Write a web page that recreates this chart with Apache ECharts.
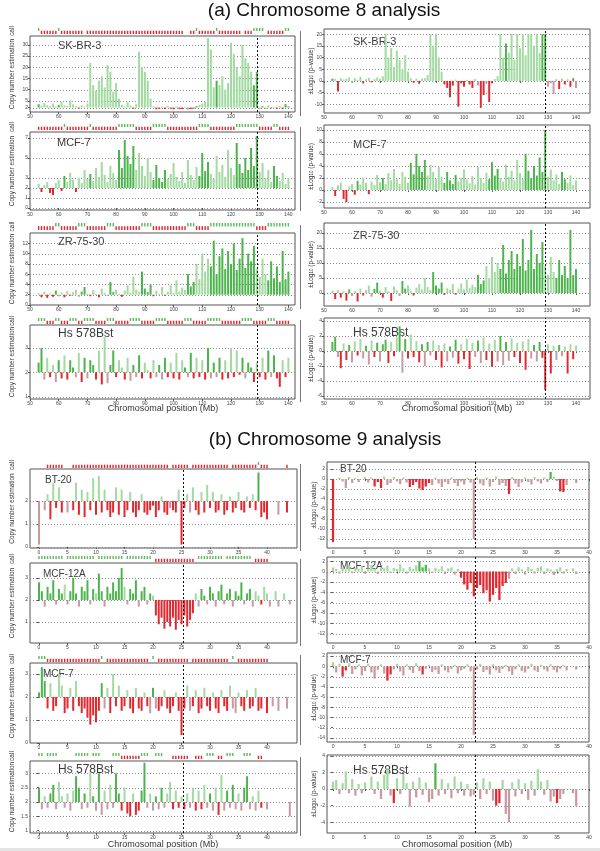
<!DOCTYPE html>
<html><head><meta charset="utf-8">
<script src="https://cdn.jsdelivr.net/npm/echarts@6/dist/echarts.min.js"></script>
<style>html,body{margin:0;padding:0;background:#fff}#c{width:600px;height:851px}</style>
</head><body><div id="c"></div>
<script>
// ---------------- DATA ----------------
var chr8Start = 53, chr8Step = 1;       // Mb bins, chromosome 8 (53..140)
var chr9Start = 0, chr9Step = 0.5;      // Mb bins, chromosome 9
var chr8Ticks = [50,60,70,80,90,100,110,120,130,140];
var chr9Ticks = [0,5,10,15,20,25,30,35,40];
var chr8MarkerMb = 128.9, chr9LeftMarkerMb = 25.2, chr9RightMarkerMb = 22.2;

// chromosome 8, copy number estimation (left column)
var skbr3Chr8Copy = [3.5,2.8,4,3,2.6,3.8,2.5,3.2,4.5,3, 2.7,5.2,3.4,2.6,1.6,3,2.4,3.8,22,12, 9.5,14,16,11,21,18,9,13,6,3.2, 2.5,4.4,3,1.5,3.5,27,20,18,14,6, 2.5,1.2,1.4,2.4,1.3,2.7,1.5,1.2,2.5,1.4, 1.3,2.3,1.1,1.3,1.5,2.6,3.2,3.8,4.5,33, 28,11,14,12,16,10,13,31,26,20, 16,30,24,22,18,12,18,1.5,2.6,1.4, 3,1.6,2.3,1.5,2.8,1.4,3.5,2.5];
var mcf7Chr8Copy = [2.4,1.6,2.3,2.6,1.5,1.3,2.5,2.8,1.7,3.2, 2.6,3.5,2.8,1.6,3,2.5,3.8,2.9,3.4,2.7, 4,3.1,4.6,3.3,2.6,4.2,3.5,2.8,5.8,4, 6.8,5.2,4.4,6.2,3.8,5.5,4.2,3.2,5,3.6, 2.8,4.3,3,2.6,3.8,2.9,3.4,4.5,3.1,2.7, 3.6,2.5,4.8,3.3,2.8,4.1,3.2,5.5,3.7,4.6, 3.4,2.9,5.2,3.6,4.3,3.1,5.8,4,3.3,6.5, 4.4,3.5,5,3.8,6,4.2,7.2,3.6,4.5,3, 3.8,2.6,4.2,3.2,2.7,3.5,2.4,3];
var zr7530Chr8Copy = [2.3,1.5,2.6,1.4,2.2,1.6,2.8,1.7,2.4,1.5, 2.7,1.8,2.5,3,1.6,2.6,3.5,2.2,1.7,2.9, 2.1,1.5,3.2,2.4,1.8,4.5,2.5,3,2.2,1.6, 2.8,3.8,2.4,5.5,3,2.6,6.5,3.2,2.5,4, 1.7,2.8,2.2,3.5,1.8,2.6,3.8,2.3,4.8,2.6, 3.4,2.9,6,3.6,4.5,8,5,10,6.5,9, 7.5,12.5,6,9.5,11,7,10.5,8,12,6.8, 9,13,7.2,10,8.5,11.5,7,5.5,9,6, 4.8,8.5,5.2,7.5,4.5,10.5,5,6.5];
var hs578bstChr8Copy = [2.4,3.0,1.7,2.6,1.8,2.3,1.6,2.5,1.75,2.7, 1.7,2.5,2.2,1.8,2.8,1.6,2.6,1.75,2.5,2.3, 1.7,2.9,1.5,3.45,1.55,2.3,2.9,1.8,2.5,2.2, 1.7,2.6,1.65,2.3,1.8,2.7,1.75,2.4,2.1,1.75, 2.5,1.8,2.3,1.7,2.6,1.8,2.4,1.75,2.8,1.7, 2.5,2.2,1.8,2.8,1.75,2.6,1.8,2.5,1.7,3.0, 1.75,2.4,1.8,2.6,1.7,2.5,1.75,3.0,1.8,2.9, 1.9,2.6,1.75,2.4,2.2,1.6,2.4,1.8,2.6,1.7, 2.9,1.8,2.7,1.75,1.4,2.5,1.8,2.6];

// chromosome 8, signed -log10(p-value) (right column)
var skbr3Chr8LogP = [1,0.8,-4.5,1.2,0.6,1,1.5,-0.8,1.2,0.5, 1.8,-1,0.7,1.4,-0.6,0.8,1.5,0.9,2,20, 10,14,6,13,9,5,11,4,1.2,-0.8, 1,-1.2,0.9,1.2,2.5,20,15,20,10,4, -1.5,-3,-7,-2,0.6,-11,-1,-2.5,0.5,-1.5, -3,0.8,-2,-11.5,-6,-1.2,-9,-1,0.8,2, 20,10,16,12,20,9,20,14,20,11, 20,20,15,20,12,20,20,-2.5,-1,-5.5, 0.8,-3.5,1,-1.5,0.7,-2.5,1.2,-3];
var mcf7Chr8LogP = [0.5,-1,0.8,1.2,-1.5,-2,0.6,1,-0.8,1.5, 0.9,2,1.2,-0.7,1.4,0.8,2.5,1.3,2,1, 2.8,1.6,3.5,1.8,1,3,2.2,1.2,4.5,2.6, 6,4,3,5,2.4,4.2,3,1.8,3.8,2.2, 1.2,3,1.6,1,2.5,1.4,2,3.4,1.7,1.1, 2.3,0.9,3.8,2,1.2,2.9,1.8,4.6,2.4,3.5, 2,1.4,4.2,2.2,3.2,1.6,5,2.8,1.8,6, 3.2,2,4,2.4,5.4,3,10,2.2,3.4,1.6, 2.6,1,3,1.8,1.2,2.4,0.8,1.6];
var zr7530Chr8LogP = [0.8,-2,1,-1.5,0.6,-2.5,1.2,-1,0.7,-2.8, 1.5,-0.8,1,2.5,-1.2,1.4,3.5,0.8,-1.5,2, 0.6,-2.6,2.2,1,-1,4,1.5,2.5,0.8,-0.8, 1.8,3,1.2,5,2,1,7,2.5,1.5,3.5, -0.6,1.6,1,3,-0.5,1.5,3.2,1.2,4.5,1.6, 2.8,2,6,3,4.2,9,5,12,7,10, 8,16,6.5,11,14,8,13,9,18,7.5, 11,21,8,13,10,17,9,6,12,7, 5,11,6,9,5,21,6,8];
var hs578bstChr8LogP = [1.2,1.9,-0.8,-2.3,1,-1.2,0.8,-1.5,1.3,-0.6, 1.6,-1,0.7,-1.8,1.4,-0.8,1.1,-1.4,0.9,1.5, -1.6,1.2,-0.7,1.8,3.3,-2.9,1.6,-1,2.2,-0.8, 1.3,-1.5,0.9,-2,1.2,-0.6,1.4,-1.2,0.8,-2.2, 1,-1.4,0.6,-0.9,1.5,-1.7,0.9,-1.1,1.6,-2.4, 1.1,-0.8,1.4,-1.6,1.8,-1.2,1,-2.1,1.5,-1.4, 2,-1.9,1.2,-1.3,1.7,-0.8,1.1,-1.6,1.3,-2.5, 1.6,-1,0.8,-1.4,1.2,-0.9,-5.2,0.9,-3,0.7, -1.2,0.8,-0.7,0.6,-3,0.9,-1.1,0.7];

// chromosome 9, copy number estimation (left column, 0..44 Mb)
var bt20Chr9Copy = [0.1,null,1.6,2.3,1.2,2.8,1.7,2.6,1.5,null, 1.5,null,1.6,2.8,1.4,2.5,1.3,2.4,1.6,3.0, 1.4,3.1,1.5,2.5,1.6,1.3,1.5,2.6,1.4,2.5, 1.3,1.6,2.4,1.5,1.3,1.6,2.3,1.5,1.4,1.6, 1.8,1.3,1.6,2.2,1.5,1.4,1.7,1.6,1.5,2.5, 0.1,1.7,2.3,1.5,2.6,1.6,1.4,2.4,1.5,2.7, 1.7,2.4,1.5,1.6,2.3,1.4,1.6,2.2,1.5,1.7, 2.4,1.6,1.5,2.2,1.7,2.3,1.6,3.25,1.3,1.5, 1.2,null,null,null,1.4,null,null,1.5,null];
var mcf12aChr9Copy = [2.8,2.4,1.7,2.6,2.3,2.9,1.8,2.5,2.3,2.7, 1.8,2.4,3.0,2.3,1.7,2.6,2.4,2.9,1.8,2.5, 2.3,3.2,2.4,1.7,2.6,2.3,2.8,2.4,3.0,3.45, 2.6,1.8,2.5,2.3,2.9,1.7,2.4,2.6,1.8,2.3, 2.2,1.3,0.9,1.2,0.7,1.0,0.8,1.2,0.65,1.1, 0.9,1.3,0.8,1.1,1.4,2.3,1.7,2.5,2.2,1.8, 2.6,2.3,1.7,2.4,2.7,1.8,2.3,2.5,1.7,2.4, 2.2,2.8,1.8,2.3,2.5,1.7,2.4,2.2,1.8,2.6, 2.3,1.7,null,2.4,1.7,null,2.3,null,1.8];
var mcf7Chr9Copy = [2.2,3.3,2.7,1.5,2.6,1.4,1.6,3.0,2.5,1.3, 1.5,2.4,1.4,2.7,1.6,1.3,1.5,1.1,0.8,1.2, 0.9,1.4,2.6,1.5,2.4,1.3,3.0,1.6,2.5,1.4, 1.6,2.3,1.5,1.3,2.4,1.5,1.4,2.2,1.6,1.3, 2.4,1.5,1.4,1.6,2.3,1.5,1.3,1.6,2.2,1.4, 0.35,1.5,2.5,1.4,1.6,2.3,1.3,1.5,2.4,1.6, 1.4,2.2,1.5,1.3,2.3,1.6,1.4,2.5,1.5,1.3, 2.2,1.6,1.4,2.3,1.5,1.6,2.4,1.4,1.5,null, 1.3,null,1.6,null,1.4,null,null,1.5,null];
var hs578bstChr9Copy = [2.5,1.75,2.2,1.8,2.3,2.6,1.75,2.7,2.2,1.8, 2.3,1.7,2.4,2.9,2.5,1.75,2.3,1.8,3.05,2.2, 1.7,3.0,1.55,2.4,1.75,2.6,1.8,3.0,2.3,1.7, 2.5,1.6,1.5,2.3,1.55,1.7,2.4,3.37,1.8,2.3, 1.7,2.2,1.75,2.5,1.8,2.3,2.7,1.75,2.4,1.8, 2.2,1.75,2.3,1.8,2.5,1.7,2.4,1.75,2.6,1.8, 2.3,1.7,2.5,1.55,2.95,1.7,2.4,1.8,2.6,1.75, 2.3,1.7,2.5,2.9,1.75,2.2,1.7,2.4,1.8,null, 1.75,null,null,null,null,null,null,null,1.5];

// chromosome 9, signed -log10(p-value) (right column, 0..38 Mb)
var bt20Chr9LogP = [-12.6,null,0.3,-0.5,-1.8,0.4,-0.8,0.2,-0.6,null, 0.4,-0.7,0.3,-1.5,-0.6,-1.8,0.5,-1.2,-0.8,0.4, -0.5,-1.0,0.3,-0.7,-1.6,-1.2,-0.6,-1.9,-2.2,-1.5, -0.8,-1.2,0.3,-0.9,-1.6,-0.6,-1.0,0.3,-0.8,-1.4, -0.5,-1.1,0.2,-0.7,-12,0.4,-0.9,-1.3,0.3,-1.5, -0.6,0.5,-1.2,-0.8,-1.4,-3,0.4,-0.9,-1.6,-0.7, 0.3,-0.6,-1.1,0.4,-0.5,-0.9,0.3,-0.6,1.4,0.5, -0.4,-2.5,-2.6,-1.2,null,null,-0.8];
var mcf12aChr9LogP = [0.8,0.5,-0.4,0.9,0.4,1.2,-0.3,0.7,0.5,1.0, -0.4,0.6,1.3,0.5,-0.5,0.8,0.6,1.1,-0.3,0.7, 0.5,1.4,0.6,-0.4,0.9,0.5,1.2,2.0,0.8,1.3, 0.6,-0.3,0.7,0.4,1.0,-0.5,0.6,0.8,-0.6,0.5, -1.2,-2.5,-3.5,-2.2,-4.8,-3.2,-2.6,-4.2,-3.6,-5.8, -4.5,-3.2,-5.5,-2.8,-2.2,-1.4,0.6,-0.5,0.8,0.4, -0.6,0.9,0.5,-0.4,0.7,1.0,-0.5,0.6,0.4,-0.7, 0.5,0.8,-0.4,0.5,null,0.6,-0.5];
var mcf7Chr9LogP = [0.8,-1.2,0.5,-2.0,-0.8,0.6,-1.5,-0.6,0.4,-1.8, -0.9,0.5,-1.2,-2.4,-0.7,0.4,-1.4,-2.8,-1.6,-0.6, 0.5,-1.0,-1.8,0.4,-0.7,-1.3,0.6,-0.9,-1.6,-0.5, 0.3,-1.1,-0.7,-1.5,0.4,-0.8,-1.2,-0.5,0.3,-1.4, -0.8,-0.5,0.4,-1.0,-13.4,-0.6,0.5,-1.1,-0.7,-1.6, 0.4,-0.8,-1.3,-0.5,0.3,-1.0,-1.7,-0.6,0.4,-0.9, -1.2,-0.5,0.5,-0.8,-1.1,0.3,-0.6,-1.0,0.4,-0.7, -1.2,-0.5,0.3,-0.8,null,null,-0.6];
var hs578bstChr9LogP = [0.9,1.1,-0.6,0.7,2.1,-0.5,1.2,-0.8,0.6,-0.5, 0.8,null,1.5,-0.6,0.9,-1.2,1.7,2.5,-0.8,-1.7, 1.3,-0.6,1.8,0.7,-2.1,0.9,-1.0,1.4,-0.7,0.8, -1.6,-1.2,3.1,-0.8,1.2,-0.6,0.7,-1.1,1.5,-0.5, 0.9,-0.8,0.6,-0.9,-0.7,0.8,-1.2,1.3,-0.6,0.9, -1.4,-2.0,-1.7,1.1,-3.0,-4.0,0.8,-0.9,1.2,-0.6, 0.7,-1.3,1.0,-0.8,2.4,0.9,-0.7,1.1,-1.5,-0.9, -1.7,-1.2,-0.6,null,null,-0.5,-2.1];

// call segments [startMb, endMb, call] : 1 gain, -1 loss
var skbr3Chr8Calls = [[53,53,1],[54,59,-1],[60,60,1],[61,68,-1],[70,81,-1],[82,91,-1],[92,103,-1],[106,107,-1],[108,108,1],[109,114,-1],[115,115,1],[116,123,-1],[125,127,-1],[128,131,1],[133,138,-1],[139,140,1]];
var mcf7Chr8Calls = [[53,61,-1],[62,62,1],[63,70,-1],[71,71,1],[72,80,-1],[81,86,1],[87,92,-1],[93,97,1],[98,108,-1],[109,112,1],[113,121,-1],[122,129,1],[130,134,-1],[135,136,1],[137,140,-1]];
var zr7530Chr8Calls = [[53,58,-1],[59,60,1],[61,66,-1],[67,69,1],[70,76,-1],[77,79,1],[80,88,-1],[89,92,1],[93,104,-1],[105,107,1],[108,112,-1],[113,128,1],[129,132,-1],[133,140,1]];
var hs578bstChr8Calls = [[53,55,1],[56,58,-1],[59,60,1],[61,63,-1],[64,66,1],[67,68,-1],[69,72,1],[73,76,-1],[77,79,1],[80,84,-1],[85,88,1],[89,93,-1],[94,97,1],[98,103,-1],[104,106,1],[107,111,-1],[112,116,1],[117,123,-1],[124,127,1],[128,132,-1],[133,135,1],[136,140,-1]];
var bt20Chr9Calls = [[1.5,4,-1],[6,22.5,-1],[23.5,26,-1],[27,33,-1],[34,38,-1],[38.5,38.5,1],[39,40,-1],[43.5,43.5,-1]];
var mcf12aChr9Calls = [[0,4,1],[5,9.5,1],[10.5,14.5,1],[15.5,19.5,1],[20.5,27,-1],[28,32,1],[33,37,1],[38,40,-1]];
var mcf7Chr9Calls = [[0,1,1],[1.5,10.5,-1],[11,11,1],[12,19,-1],[20,20,1],[21,26,-1],[27,33,-1],[34,34,1],[35,40,-1]];
var hs578bstChr9Calls = [[0,0.5,1],[1.5,3,1],[6.5,8.5,1],[9.5,10.5,1],[13,14,1],[14.5,17.5,-1],[18,19,1],[20.5,21.5,1],[23.5,26,-1],[27.5,28.5,-1],[29.5,30.5,1],[31.5,32,-1],[33,34,1],[36,37,1],[38.5,39,-1]];
var bt20Chr9RightCalls = [[0,0,-1],[6.5,8,-1],[12,15,-1],[27.5,27.5,-1],[33.5,34,1],[35.5,36,-1]];
var mcf12aChr9RightCalls = [[13.5,14.5,1],[20,27,-1]];
var mcf7Chr9RightCalls = [[1.5,2,-1],[8.5,9,-1],[14,14,-1]];
var hs578bstChr9RightCalls = [[9.5,9.5,-1],[16,16,1],[25.5,26,-1],[35,35,-1]];

// y tick labels
var skbr3CopyTicks = [0,2,5,10,15,20,25,30];
var mcf7Chr8CopyTicks = [0,1,2,3,5,7];
var zr7530CopyTicks = [0,2,4,6,8,10,12];
var hsChr8CopyTicks = [1,2,3];
var skbr3LogPTicks = [-10,-5,0,5,10,15,20];
var mcf7Chr8LogPTicks = [-2,0,2,4,6,8,10];
var zr7530LogPTicks = [0,5,10,15,20];
var hsChr8LogPTicks = [-6,-4,-2,0,2,4];
var bt20CopyTicks = [0,1,2];
var mcf12aCopyTicks = [1,2,3];
var mcf7Chr9CopyTicks = [0,1,2,3];
var hsChr9CopyTicks = [1,1.5,2,2.5,3];
var bt20LogPTicks = [-12,-10,-8,-6,-4,-2,0,2];
var mcf12aLogPTicks = [-12,-10,-8,-6,-4,-2,0,2];
var mcf7Chr9LogPTicks = [-14,-12,-10,-8,-6,-4,-2,0,2];
var hsChr9LogPTicks = [-4,-2,0,2,4];

// ---------------- LAYOUT ----------------
var C = {gl:'#a2daa2', gd:'#4db44d', rl:'#c79aa2', rd:'#e2272f'};
var FONT = 'Liberation Sans, Arial, sans-serif';

var panels = [
 {v:skbr3Chr8Copy, s:chr8Start, st:chr8Step, seg:skbr3Chr8Calls, base:2, y:[0,34], yt:skbr3CopyTicks, x:[50,142.3], xt:chr8Ticks, mk:chr8MarkerMb, box:[30,36,265,76], strip:[28,6], lab:'SK-BR-3', lp:[58,47,11]},
 {v:mcf7Chr8Copy, s:chr8Start, st:chr8Step, seg:mcf7Chr8Calls, base:2, y:[-0.2,7.6], yt:mcf7Chr8CopyTicks, x:[50,142.3], xt:chr8Ticks, mk:chr8MarkerMb, box:[30,132,265,78], strip:[124,6], lab:'MCF-7', lp:[57,144,11]},
 {v:zr7530Chr8Copy, s:chr8Start, st:chr8Step, seg:zr7530Chr8Calls, base:2, y:[0,14], yt:zr7530CopyTicks, x:[50,142.3], xt:chr8Ticks, mk:chr8MarkerMb, box:[30,233,265,72], strip:[223,7], lab:'ZR-75-30', lp:[58,243,11]},
 {v:hs578bstChr8Copy, s:chr8Start, st:chr8Step, seg:hs578bstChr8Calls, base:2, y:[0.9,3.95], yt:hsChr8CopyTicks, x:[50,142.3], xt:chr8Ticks, mk:chr8MarkerMb, box:[30,325,265,74], strip:[318,6], lab:'Hs 578Bst', lp:[58,335,12]},
 {v:skbr3Chr8LogP, s:chr8Start, st:chr8Step, seg:skbr3Chr8Calls, base:0, y:[-13.7,22.2], yt:skbr3LogPTicks, x:[50,145], xt:chr8Ticks, mk:chr8MarkerMb, box:[324,29,266,84], lab:'SK-BR-3', lp:[353,43,11]},
 {v:mcf7Chr8LogP, s:chr8Start, st:chr8Step, seg:mcf7Chr8Calls, base:0, y:[-3,10.8], yt:mcf7Chr8LogPTicks, x:[50,145], xt:chr8Ticks, mk:chr8MarkerMb, box:[324,125,266,83], lab:'MCF-7', lp:[353,146,11]},
 {v:zr7530Chr8LogP, s:chr8Start, st:chr8Step, seg:zr7530Chr8Calls, base:0, y:[-4.3,23.3], yt:zr7530LogPTicks, x:[50,145], xt:chr8Ticks, mk:chr8MarkerMb, box:[324,223,266,83], lab:'ZR-75-30', lp:[353,237,11]},
 {v:hs578bstChr8LogP, s:chr8Start, st:chr8Step, seg:hs578bstChr8Calls, base:0, y:[-6.4,4.4], yt:hsChr8LogPTicks, x:[50,145], xt:chr8Ticks, mk:chr8MarkerMb, box:[324,318,266,81], lab:'Hs 578Bst', lp:[353,334,12]},
 {v:bt20Chr9Copy, s:chr9Start, st:chr9Step, seg:bt20Chr9Calls, base:2, y:[-0.05,3.4], yt:bt20CopyTicks, x:[-1.58,45.26], xt:chr9Ticks, mk:chr9LeftMarkerMb, box:[30,469,267,79], strip:[462,6], lab:'BT-20', lp:[45,481,10]},
 {v:mcf12aChr9Copy, s:chr9Start, st:chr9Step, seg:mcf12aChr9Calls, base:2, y:[0.05,3.68], yt:mcf12aCopyTicks, x:[-1.58,45.26], xt:chr9Ticks, mk:chr9LeftMarkerMb, box:[30,563,267,80], strip:[556,6], lab:'MCF-12A', lp:[43,575,10]},
 {v:mcf7Chr9Copy, s:chr9Start, st:chr9Step, seg:mcf7Chr9Calls, base:2, y:[0,3.48], yt:mcf7Chr9CopyTicks, x:[-1.58,45.26], xt:chr9Ticks, mk:chr9LeftMarkerMb, box:[30,663,267,80], strip:[656,6], lab:'MCF-7', lp:[43,675,10]},
 {v:hs578bstChr9Copy, s:chr9Start, st:chr9Step, seg:hs578bstChr9Calls, base:2, y:[0.92,3.43], yt:hsChr9CopyTicks, x:[-1.58,45.26], xt:chr9Ticks, mk:chr9LeftMarkerMb, box:[30,761,267,72], strip:[753,6], lab:'Hs 578Bst', lp:[58,771,12]},
 {v:bt20Chr9LogP, s:chr9Start, st:chr9Step, seg:bt20Chr9RightCalls, base:0, y:[-13.8,3.4], yt:bt20LogPTicks, x:[-0.94,40], xt:chr9Ticks, mk:chr9RightMarkerMb, box:[327,462,262,86], lab:'BT-20', lp:[340,470,10]},
 {v:mcf12aChr9LogP, s:chr9Start, st:chr9Step, seg:mcf12aChr9RightCalls, base:0, y:[-13.8,2.8], yt:mcf12aLogPTicks, x:[-0.94,40], xt:chr9Ticks, mk:chr9RightMarkerMb, box:[327,557,262,86], lab:'MCF-12A', lp:[340,567,10]},
 {v:mcf7Chr9LogP, s:chr9Start, st:chr9Step, seg:mcf7Chr9RightCalls, base:0, y:[-14.8,2.6], yt:mcf7Chr9LogPTicks, x:[-0.94,40], xt:chr9Ticks, mk:chr9RightMarkerMb, box:[327,653,262,89], lab:'MCF-7', lp:[340,661,10]},
 {v:hs578bstChr9LogP, s:chr9Start, st:chr9Step, seg:hs578bstChr9RightCalls, base:0, y:[-5.3,4.1], yt:hsChr9LogPTicks, x:[-0.94,40], xt:chr9Ticks, mk:chr9RightMarkerMb, box:[327,755,262,78], lab:'Hs 578Bst', lp:[353,772,12]}
];

function expand(vals, start, step, segs){
  var out = [];
  for (var i = 0; i < vals.length; i++){
    var x = Math.round((start + i*step)*100)/100, code = 0;
    for (var j = 0; j < segs.length; j++){
      if (x >= segs[j][0] - 1e-6 && x <= segs[j][1] + 1e-6){ code = segs[j][2]; break; }
    }
    out.push([x, vals[i] === null ? '-' : vals[i], code]);
  }
  return out;
}

function barRenderer(base, step){
  return function(params, api){
    var x = api.value(0), v = api.value(1), code = api.value(2);
    if (v == null || isNaN(v)) return;
    var p0 = api.coord([x, base]), p1 = api.coord([x, v]);
    var w = Math.max(1.2, api.size([step, 0])[0]*0.7);
    var top = Math.min(p0[1], p1[1]), h = Math.max(0.8, Math.abs(p1[1]-p0[1]));
    var up = v >= base;
    var fill = up ? (code === 1 ? C.gd : C.gl) : (code === -1 ? C.rd : C.rl);
    return {type:'rect', shape:{x:p0[0]-w/2, y:top, width:w, height:h}, style:{fill:fill}};
  };
}
function hlineRenderer(x0, x1){
  return function(params, api){
    var y = api.value(1);
    var a = api.coord([x0, y]), b = api.coord([x1, y]);
    var yy = Math.round(a[1]) + 0.5;
    return {type:'line', shape:{x1:a[0], y1:yy, x2:b[0], y2:yy}, style:{stroke:'#8c8c8c', lineWidth:1, lineDash:[1,2]}};
  };
}
function vlineRenderer(y0, y1){
  return function(params, api){
    var x = api.value(0);
    var a = api.coord([x, y0]), b = api.coord([x, y1]);
    var xx = Math.round(a[0]) + 0.5;
    return {type:'line', shape:{x1:xx, y1:a[1], x2:xx, y2:b[1]}, style:{stroke:'#111', lineWidth:1, lineDash:[2,2]}};
  };
}
function stripRenderer(step){
  return function(params, api){
    var x = api.value(0), code = api.value(1);
    if (!code) return;
    var w = Math.max(1, api.size([step, 0])[0]*0.5);
    var a = code === 1 ? api.coord([x, 1]) : api.coord([x, 0.55]);
    var b = code === 1 ? api.coord([x, 0.5]) : api.coord([x, 0]);
    return {type:'rect', shape:{x:a[0]-w/2, y:a[1], width:w, height:b[1]-a[1]}, style:{fill: code === 1 ? '#5cbc5c' : C.rd}};
  };
}

var option = {animation:false, textStyle:{fontFamily:FONT}, grid:[], xAxis:[], yAxis:[], series:[], graphic:[]};

panels.forEach(function(p){
  var gi = option.grid.length;
  option.grid.push({left:p.box[0], top:p.box[1], width:p.box[2], height:p.box[3], show:true, borderColor:'#555', borderWidth:1, backgroundColor:'#fff'});
  option.xAxis.push({type:'value', gridIndex:gi, min:p.x[0], max:p.x[1], axisLine:{show:false}, splitLine:{show:false},
    axisTick:{show:true, length:2, customValues:p.xt, lineStyle:{color:'#555'}},
    axisLabel:{customValues:p.xt, fontSize:5, color:'#444', margin:2, fontFamily:FONT}});
  option.yAxis.push({type:'value', gridIndex:gi, min:p.y[0], max:p.y[1], axisLine:{show:false}, splitLine:{show:false},
    axisTick:{show:true, length:2, customValues:p.yt, lineStyle:{color:'#555'}},
    axisLabel:{customValues:p.yt, fontSize:5, color:'#444', margin:2, fontFamily:FONT}});
  var data = expand(p.v, p.s, p.st, p.seg);
  option.series.push({type:'custom', xAxisIndex:gi, yAxisIndex:gi, z:1, silent:true, clip:true,
    data:p.yt.map(function(t){ return [p.x[0], t]; }), renderItem:hlineRenderer(p.x[0], p.x[1])});
  option.series.push({type:'custom', xAxisIndex:gi, yAxisIndex:gi, z:3, silent:true, clip:true,
    data:data, renderItem:barRenderer(p.base, p.st)});
  option.series.push({type:'custom', xAxisIndex:gi, yAxisIndex:gi, z:5, silent:true, clip:true,
    data:[[p.mk, p.y[0]]], renderItem:vlineRenderer(p.y[0], p.y[1])});
  option.graphic.push({type:'text', left:p.lp[0], top:p.lp[1]-p.lp[2]/2-1, silent:true,
    style:{text:p.lab, fontSize:p.lp[2], fill:'#3a3a3a', fontFamily:FONT}});
  var cy = p.box[1] + p.box[3]/2;
  if (p.base === 2){
    option.graphic.push({type:'text', x:12, y:cy, rotation:Math.PI/2, silent:true,
      style:{text:'Copy number estimation', fontSize:6.5, fill:'#333', fontFamily:FONT, textAlign:'center', textVerticalAlign:'middle', align:'center', verticalAlign:'middle'}});
  } else {
    option.graphic.push({type:'text', x:p.box[0]-13, y:cy, rotation:Math.PI/2, silent:true,
      style:{text:'±Log{s|10} (p-value)', fontSize:6.5, fill:'#333', fontFamily:FONT, textAlign:'center', textVerticalAlign:'middle', align:'center', verticalAlign:'middle',
        rich:{s:{fontSize:4.5, fill:'#333', verticalAlign:'bottom', fontFamily:FONT}}}});
    option.graphic.push({type:'line', silent:true, shape:{x1:300.5, y1:p.box[1]+2, x2:300.5, y2:p.box[1]+p.box[3]+3}, style:{stroke:'#777', lineWidth:1}});
  }
  if (p.strip){
    var si = option.grid.length;
    option.grid.push({left:p.box[0], top:p.strip[0], width:p.box[2], height:p.strip[1], show:false});
    option.xAxis.push({type:'value', gridIndex:si, min:p.x[0], max:p.x[1], show:false});
    option.yAxis.push({type:'value', gridIndex:si, min:0, max:1, show:false});
    option.series.push({type:'custom', xAxisIndex:si, yAxisIndex:si, z:3, silent:true, clip:true,
      data:data.filter(function(d){ return d[2] !== 0; }).map(function(d){ return [d[0], d[2]]; }),
      renderItem:stripRenderer(p.st)});
    option.graphic.push({type:'text', x:12, y:p.strip[0]+p.strip[1]/2, rotation:Math.PI/2, silent:true,
      style:{text:'call', fontSize:6.5, fill:'#333', fontFamily:FONT, textAlign:'center', textVerticalAlign:'middle', align:'center', verticalAlign:'middle'}});
  }
});

// titles and axis titles
[['(a) Chromosome 8 analysis', 324, 11], ['(b) Chromosome 9 analysis', 325, 440]].forEach(function(t){
  option.graphic.push({type:'text', x:t[1], y:t[2], silent:true,
    style:{text:t[0], fontSize:19, fill:'#111', fontFamily:FONT, textAlign:'center', textVerticalAlign:'middle', align:'center', verticalAlign:'middle'}});
});
[[163,409],[457,409],[163,845],[457,845]].forEach(function(t){
  option.graphic.push({type:'text', x:t[0], y:t[1], silent:true,
    style:{text:'Chromosomal position (Mb)', fontSize:9, fill:'#333', fontFamily:FONT, textAlign:'center', textVerticalAlign:'middle', align:'center', verticalAlign:'middle'}});
});
option.graphic.push({type:'rect', silent:true, shape:{x:0, y:848, width:600, height:3}, style:{fill:'#e4e4e4'}});

var chart = echarts.init(document.getElementById('c'), null, {renderer:'canvas', width:600, height:851});
chart.setOption(option);
</script></body></html>
